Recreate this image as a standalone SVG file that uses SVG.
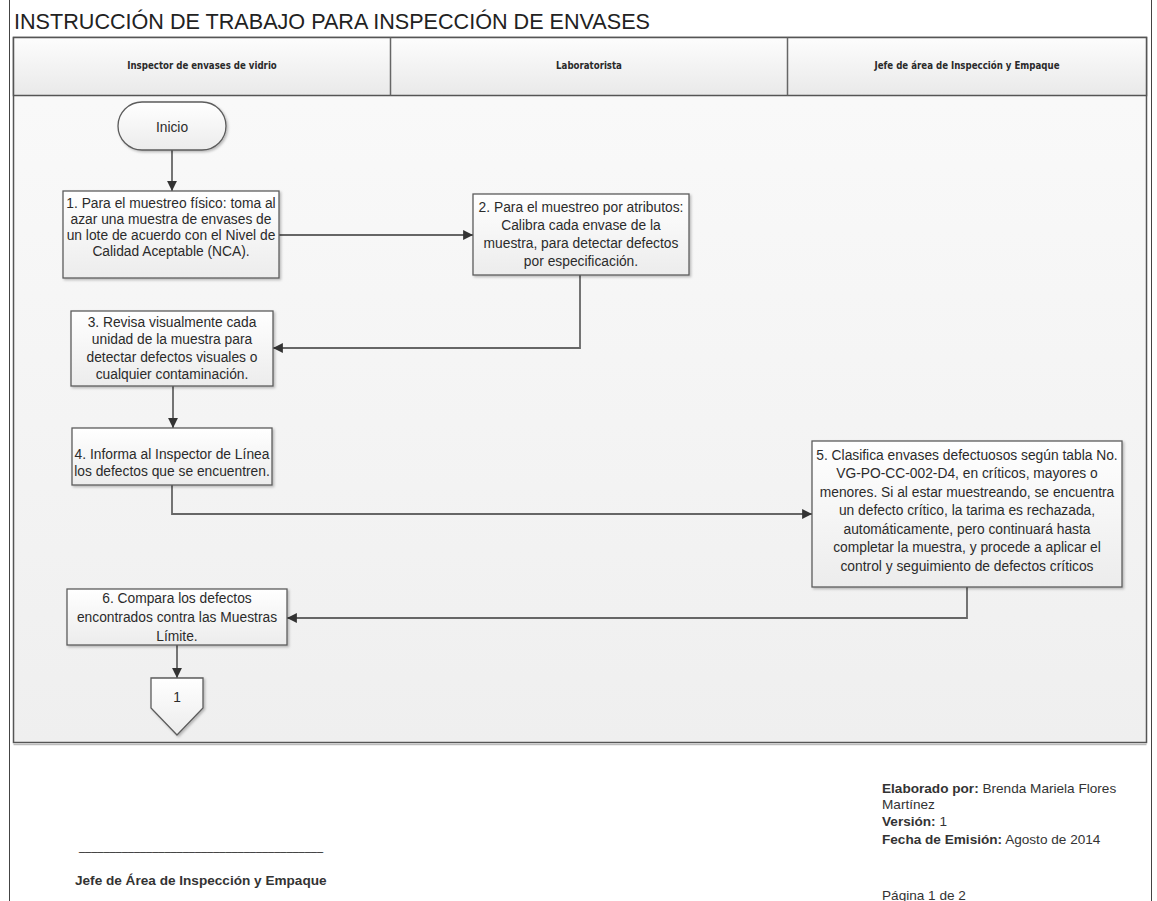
<svg xmlns="http://www.w3.org/2000/svg" width="1157" height="901" viewBox="0 0 1157 901">
  <style>
    .body { font-family: "Liberation Sans", Arial, sans-serif; font-size: 13.8px; fill: #2b2b2b; text-anchor: middle; }
    .lane { font-family: "Liberation Sans Narrow", "DejaVu Sans Condensed", "Liberation Sans", sans-serif; font-size: 9.6px; font-weight: bold; fill: #2a2a2a; text-anchor: middle; }
    .box { fill: url(#boxFill); stroke: #5c5c5c; stroke-width: 1.3; filter: url(#shadow); }
    .conn { fill: none; stroke: #666; stroke-width: 1.8; marker-end: url(#arrow); }
    .foot { font-family: "Liberation Sans", Arial, sans-serif; font-size: 13.6px; fill: #333; }
    .b { font-weight: bold; }
  </style>
  <defs>
    <linearGradient id="poolFill" x1="0" y1="0" x2="0" y2="1">
      <stop offset="0" stop-color="#fafafa"/>
      <stop offset="1" stop-color="#efefef"/>
    </linearGradient>
    <linearGradient id="headFill" x1="0" y1="0" x2="0" y2="1">
      <stop offset="0" stop-color="#fdfdfd"/>
      <stop offset="1" stop-color="#e9e9e9"/>
    </linearGradient>
    <linearGradient id="boxFill" x1="0" y1="0" x2="0" y2="1">
      <stop offset="0" stop-color="#ffffff"/>
      <stop offset="1" stop-color="#ececec"/>
    </linearGradient>
    <filter id="shadow" x="-10%" y="-10%" width="125%" height="130%">
      <feDropShadow dx="1.5" dy="1.5" stdDeviation="1" flood-color="#000" flood-opacity="0.25"/>
    </filter>
    <marker id="arrow" viewBox="0 0 10 10" refX="10" refY="5" markerWidth="5.5" markerHeight="5.5" orient="auto" markerUnits="strokeWidth">
      <path d="M0,0 L10,5 L0,10 z" fill="#333"/>
    </marker>
  </defs>

  <rect width="1157" height="901" fill="#ffffff"/>

  <!-- page edges -->
  <line x1="9.5" y1="0" x2="9.5" y2="901" stroke="#444" stroke-width="1"/>
  <line x1="1151.5" y1="0" x2="1151.5" y2="901" stroke="#444" stroke-width="1"/>

  <!-- title -->
  <text x="14" y="29" font-family="'Liberation Sans', Arial, sans-serif" font-size="21.6" fill="#222">INSTRUCCIÓN DE TRABAJO PARA INSPECCIÓN DE ENVASES</text>

  <!-- swimlane pool -->
  <g id="pool">
    <rect x="13.5" y="37.5" width="1133" height="705" fill="url(#poolFill)" stroke="#555" stroke-width="1.5"/>
    <line x1="13.5" y1="744.5" x2="1146.5" y2="744.5" stroke="#bbb" stroke-width="1.5"/>
    <rect x="13.5" y="37.5" width="1133" height="58" fill="url(#headFill)" stroke="#555" stroke-width="1.5"/>
    <line x1="390.5" y1="37.5" x2="390.5" y2="95.5" stroke="#666" stroke-width="1.5"/>
    <line x1="787.5" y1="37.5" x2="787.5" y2="95.5" stroke="#666" stroke-width="1.5"/>
    <text class="lane" x="202" y="69">Inspector de envases de vidrio</text>
    <text class="lane" x="589" y="69">Laboratorista</text>
    <text class="lane" x="967" y="69">Jefe de área de Inspección y Empaque</text>
  </g>

  <!-- connectors -->
  <g id="connectors">
    <path class="conn" d="M172,150 V191"/>
    <path class="conn" d="M279,235 H473"/>
    <path class="conn" d="M580,275 V348 H273"/>
    <path class="conn" d="M173,386 V428"/>
    <path class="conn" d="M172,485 V514 H812"/>
    <path class="conn" d="M967,587 V618 H287"/>
    <path class="conn" d="M177,645 V678"/>
  </g>

  <g id="inicio">
    <rect class="box" x="118" y="102" width="108" height="48" rx="24" ry="24"/>
    <text class="body" x="172" y="132">Inicio</text>
  </g>

  <g id="step1">
    <rect class="box" x="63" y="191" width="216" height="87"/>
    <text class="body" x="171" y="208">1. Para el muestreo físico: toma al</text>
    <text class="body" x="171" y="224">azar una muestra de envases de</text>
    <text class="body" x="171" y="240">un lote de acuerdo con el Nivel de</text>
    <text class="body" x="171" y="256">Calidad Aceptable (NCA).</text>
  </g>

  <g id="step2">
    <rect class="box" x="473" y="194" width="216" height="81"/>
    <text class="body" x="581" y="211.5">2. Para el muestreo por atributos:</text>
    <text class="body" x="581" y="229.5">Calibra cada envase de la</text>
    <text class="body" x="581" y="247.5">muestra, para detectar defectos</text>
    <text class="body" x="581" y="265.5">por especificación.</text>
  </g>

  <g id="step3">
    <rect class="box" x="71" y="311" width="202" height="75"/>
    <text class="body" x="172" y="326.5">3. Revisa visualmente cada</text>
    <text class="body" x="172" y="344">unidad de la muestra para</text>
    <text class="body" x="172" y="361.5">detectar defectos visuales o</text>
    <text class="body" x="172" y="379">cualquier contaminación.</text>
  </g>

  <g id="step4">
    <rect class="box" x="72" y="428" width="200" height="57"/>
    <text class="body" x="172" y="459">4. Informa al Inspector de Línea</text>
    <text class="body" x="172" y="475.5">los defectos que se encuentren.</text>
  </g>

  <g id="step5">
    <rect class="box" x="812" y="441" width="310" height="146"/>
    <text class="body" x="967" y="459.5">5. Clasifica envases defectuosos según tabla No.</text>
    <text class="body" x="967" y="478">VG-PO-CC-002-D4, en críticos, mayores o</text>
    <text class="body" x="967" y="496.5">menores. Si al estar muestreando, se encuentra</text>
    <text class="body" x="967" y="515">un defecto crítico, la tarima es rechazada,</text>
    <text class="body" x="967" y="533.5">automáticamente, pero continuará hasta</text>
    <text class="body" x="967" y="552">completar la muestra, y procede a aplicar el</text>
    <text class="body" x="967" y="570.5">control y seguimiento de defectos críticos</text>
  </g>

  <g id="step6">
    <rect class="box" x="67" y="589" width="220" height="56"/>
    <text class="body" x="177" y="602.5">6. Compara los defectos</text>
    <text class="body" x="177" y="622">encontrados contra las Muestras</text>
    <text class="body" x="177" y="641">Límite.</text>
  </g>

  <g id="offpage1">
    <path class="box" d="M151,678 H203 V708 L177,735 L151,708 Z"/>
    <text class="body" x="177" y="702" font-size="11">1</text>
  </g>

  <!-- signature and document data -->
  <g id="footer">
    <text class="foot" x="79" y="850" textLength="244" lengthAdjust="spacingAndGlyphs">________________________________________</text>
    <text class="foot b" x="75" y="885" font-size="13">Jefe de Área de Inspección y Empaque</text>
    <text class="foot" x="882" y="793"><tspan class="b">Elaborado por:</tspan> Brenda Mariela Flores</text>
    <text class="foot" x="882" y="809">Martínez</text>
    <text class="foot" x="882" y="826"><tspan class="b">Versión:</tspan> 1</text>
    <text class="foot" x="882" y="844"><tspan class="b">Fecha de Emisión:</tspan> Agosto de 2014</text>
    <text class="foot" x="882" y="900">Página 1 de 2</text>
  </g>
</svg>
